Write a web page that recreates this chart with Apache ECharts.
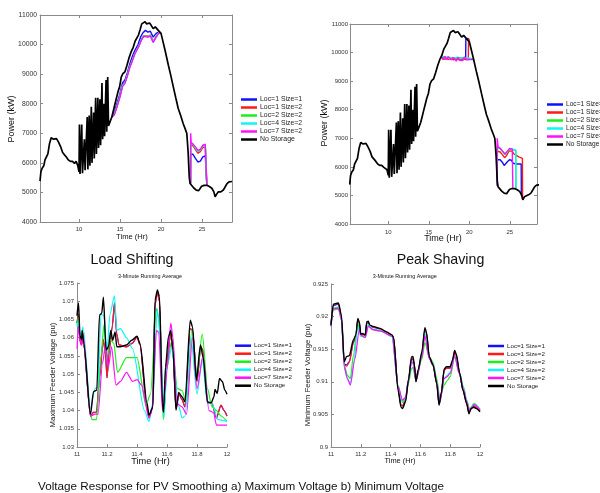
<!DOCTYPE html>
<html><head><meta charset="utf-8">
<script src="https://cdn.jsdelivr.net/npm/echarts@6/dist/echarts.min.js"></script>
<style>html,body{margin:0;padding:0;background:#fff;}#c{width:600px;height:493px;}</style>
</head><body><div id="c"></div>
<script>
// ---------- names / colours / ticks ----------
const seriesNames = ['Loc=1 Size=1','Loc=1 Size=2','Loc=2 Size=2','Loc=4 Size=2','Loc=7 Size=2','No Storage'];
const seriesColors = ['#1010ff','#ff1a1a','#1aef1a','#10f5f5','#ff10ff','#000000'];
const powerTicks = [4000,5000,6000,7000,8000,9000,10000,11000];
const hourTicks = [10,15,20,25];
const subHourTicks = [11,11.2,11.4,11.6,11.8,12];
const maxVoltTicks = [1.03,1.035,1.04,1.045,1.05,1.055,1.06,1.065,1.07,1.075];
const minVoltTicks = [0.9,0.905,0.91,0.915,0.92,0.925];
const GAP = ['-','-'];

// ---------- feeder power, no storage (hr, kW) ----------
const noStoragePower = [[5.24,5380],[5.35,5700],[5.5,5820],[5.7,5900],[5.85,6100],[6.05,6100],[6.2,6300],[6.4,6650],[6.6,6850],[6.75,6880],[6.9,6800],[7.05,6850],[7.25,6820],[7.5,6700],[7.75,6550],[8.0,6350],[8.2,6280],[8.45,6200],[8.7,6100],[8.95,6050],[9.2,6050],[9.45,5980],[9.65,6050],[9.85,5900],[10.0,5700],
[10.05,7300],[10.12,5620],[10.33,7300],[10.42,5650],[10.65,6800],[10.74,5750],[11.0,7550],[11.08,5780],[11.24,7600],[11.33,5900],[11.5,7900],[11.58,6000],[11.78,7700],[11.86,6150],[12.03,8200],[12.12,6300],[12.3,8200],[12.38,6500],[12.55,8150],[12.63,6600],[12.8,8700],[12.88,6800],[13.05,8000],[13.12,6900],[13.3,8800],[13.38,7050],[13.5,8900],[13.6,7250],[13.8,7400],
[14.0,7550],[14.15,7720],[14.35,7950],[14.55,8175],[14.75,8400],[14.95,8570],[15.15,8900],[15.35,9020],[15.6,9080],[15.85,9300],[16.1,9550],[16.35,9750],[16.6,9900],[16.85,10120],[17.05,10150],[17.25,10320],[17.45,10500],[17.65,10700],[17.85,10750],[18.05,10770],[18.25,10700],[18.4,10680],[18.6,10730],[18.8,10650],[19.05,10540],[19.3,10600],[19.5,10540],[19.7,10470],[19.85,10500],[20.0,10380],[20.2,10150],[20.5,9800],[20.9,9300],[21.2,8950],[21.5,8570],[21.8,8200],[22.1,7840],[22.4,7600],[22.7,7330],[22.95,7150],[23.15,6990],[23.3,6400],[23.45,5500],[23.55,5300],[23.75,5280],[24.0,5150],[24.3,5080],[24.6,5060],[24.95,5210],[25.25,5240],[25.6,5240],[25.9,5200],[26.2,5140],[26.45,5020],[26.6,4850],[26.8,4950],[27.0,5020],[27.3,5020],[27.6,5080],[27.85,5200],[28.05,5300],[28.3,5360],[28.66,5370]];

// ---------- load shifting (hr, kW) ----------
const lsLoc1Size1 = [[14.0,7550],[14.3,7700],[14.6,7980],[15.0,8350],[15.3,8700],[15.6,8800],[15.9,9050],[16.2,9350],[16.5,9600],[16.8,9800],[17.0,9790],[17.2,10000],[17.5,10250],[17.8,10400],[18.1,10480],[18.4,10420],[18.7,10450],[19.05,10250],[19.4,10380],[19.7,10420],[20.0,10380],GAP,[23.6,5300],[23.62,6300],[23.9,6290],[24.2,6150],[24.5,6030],[24.8,6060],[25.1,6200],[25.4,6240],[25.57,6240],[25.59,5240]];
const lsLoc1Size2 = [[14.0,7550],[14.3,7640],[14.6,7900],[15.0,8270],[15.3,8620],[15.6,8720],[15.9,8970],[16.2,9270],[16.5,9480],[16.8,9700],[17.0,9720],[17.3,9970],[17.6,10170],[17.9,10300],[18.1,10340],[18.4,10280],[18.7,10320],[19.05,10100],[19.4,10270],[19.7,10390],[20.0,10380],GAP,[23.6,5300],[23.62,6600],[23.9,6580],[24.2,6450],[24.5,6330],[24.8,6380],[25.1,6520],[25.4,6540],[25.57,6540],[25.59,5240]];
const lsLoc2Size2 = [[14.0,7550],[14.3,7640],[14.6,7890],[15.0,8260],[15.3,8610],[15.6,8710],[15.9,8960],[16.2,9260],[16.5,9470],[16.8,9690],[17.0,9710],[17.3,9960],[17.6,10160],[17.9,10290],[18.1,10330],[18.4,10270],[18.7,10310],[19.05,10090],[19.4,10260],[19.7,10390],[20.0,10380],GAP,[23.6,5300],[23.62,6640],[23.9,6620],[24.2,6500],[24.5,6390],[24.8,6430],[25.1,6570],[25.4,6590],[25.57,6590],[25.59,5240]];
const lsLoc4Size2 = [[14.0,7550],[14.3,7630],[14.6,7880],[15.0,8250],[15.3,8600],[15.6,8710],[15.9,8960],[16.2,9250],[16.5,9460],[16.8,9690],[17.0,9700],[17.3,9950],[17.6,10160],[17.9,10290],[18.1,10320],[18.4,10260],[18.7,10300],[19.05,10090],[19.4,10260],[19.7,10390],[20.0,10380],GAP,[23.6,5300],[23.62,6660],[23.9,6640],[24.2,6520],[24.5,6400],[24.8,6450],[25.1,6580],[25.4,6600],[25.57,6600],[25.59,5240]];
const lsLoc7Size2 = [[14.0,7550],[14.3,7620],[14.6,7860],[15.0,8230],[15.3,8580],[15.6,8690],[15.9,8940],[16.2,9230],[16.5,9440],[16.8,9680],[17.0,9690],[17.3,9940],[17.6,10150],[17.9,10280],[18.1,10310],[18.4,10250],[18.7,10290],[19.05,10070],[19.4,10250],[19.7,10380],[20.0,10380],GAP,[23.6,5300],[23.62,7000],[23.68,6700],[23.9,6660],[24.2,6540],[24.5,6420],[24.8,6460],[25.1,6600],[25.4,6630],[25.57,6630],[25.59,5240]];

// ---------- peak shaving (hr, kW) ----------
const psLoc1Size1 = [[16.6,9880],[16.8,9830],[17.1,9800],[17.4,9840],[17.7,9800],[18.0,9820],[18.3,9790],[18.6,9820],[18.9,9800],[19.2,9810],[19.55,9800],[19.57,10470],[19.7,10470],[19.85,10500],[20.0,10380],GAP,[23.44,5350],[23.46,6250],[23.8,6250],[24.1,6150],[24.3,6050],[24.5,6060],[24.7,6180],[24.95,6250],[25.2,6230],[25.4,6130],[25.7,6100],[26.4,6100],[26.42,5000]];
const psLoc1Size2 = [[16.6,9880],[16.75,9760],[16.9,9700],[17.1,9780],[17.4,9760],[17.7,9780],[18.0,9750],[18.3,9770],[18.6,9760],[18.9,9740],[19.2,9770],[19.5,9760],[19.88,9760],[19.9,10500],[20.0,10380],GAP,[23.44,5350],[23.46,6550],[23.8,6520],[24.1,6420],[24.35,6320],[24.6,6400],[24.9,6560],[25.3,6550],[25.5,6450],[25.8,6400],[26.1,6350],[26.55,6300],[26.57,4870]];
const psLoc2Size2 = [[16.6,9880],[16.8,9820],[17.0,9840],[17.3,9800],[17.6,9830],[17.9,9790],[18.2,9820],[18.5,9780],[18.8,9810],[19.1,9790],[19.4,9820],[19.7,9780],[20.0,9780],[20.45,9780],GAP,[23.44,5350],[23.46,6650],[23.8,6640],[24.1,6540],[24.4,6430],[24.7,6530],[24.95,6620],[25.4,6600],[25.73,6580],[25.75,5230]];
const psLoc4Size2 = [[16.6,9880],[16.8,9840],[17.0,9810],[17.3,9850],[17.6,9800],[17.9,9830],[18.2,9810],[18.5,9840],[18.8,9790],[19.1,9830],[19.4,9800],[19.7,9820],[20.0,9800],[20.45,9790],GAP,[23.44,5350],[23.46,6670],[23.8,6650],[24.1,6550],[24.4,6440],[24.7,6540],[24.95,6630],[25.4,6610],[25.73,6590],[25.75,5230]];
const psLoc7Size2 = [[16.45,9830],[16.6,9850],[16.8,9780],[17.0,9870],[17.2,9760],[17.4,9850],[17.6,9800],[17.8,9740],[18.0,9830],[18.2,9780],[18.4,9700],[18.6,9840],[18.8,9730],[19.0,9800],[19.2,9720],[19.4,9850],[19.6,9760],[19.8,9740],[20.0,9760],[20.45,9760],GAP,[23.42,5350],[23.44,7000],[23.55,6700],[23.8,6650],[24.1,6550],[24.4,6450],[24.7,6550],[24.95,6640],[25.3,6630],[25.35,6630],[25.37,5240]];

// ---------- maximum feeder voltage (hr, pu) ----------
const maxNoStorage = [[11.0,1.066],[11.01,1.0695],[11.02,1.0605],[11.03,1.0595],[11.035,1.062],[11.045,1.0585],[11.09,1.039],[11.11,1.0452],[11.132,1.0456],[11.15,1.0662],[11.165,1.0667],[11.176,1.0711],[11.194,1.0566],[11.21,1.0575],[11.225,1.062],[11.238,1.0593],[11.254,1.0616],[11.265,1.0575],[11.288,1.0575],[11.33,1.058],[11.365,1.0593],[11.4,1.0604],[11.42,1.0584],[11.467,1.042],[11.48,1.0387],[11.506,1.041],[11.52,1.0703],[11.536,1.0731],[11.55,1.0712],[11.57,1.042],[11.577,1.0396],[11.59,1.052],[11.61,1.0603],[11.625,1.062],[11.64,1.0566],[11.66,1.0401],[11.678,1.045],[11.7,1.0438],[11.72,1.0424],[11.755,1.0648],[11.77,1.063],[11.796,1.0484],[11.823,1.058],[11.84,1.0548],[11.87,1.0424],[11.895,1.0421],[11.913,1.0438],[11.92,1.0458],[11.935,1.0447],[11.95,1.0488],[11.97,1.0479],[11.985,1.0456],[12.0,1.0445]];
const maxLoc1Size1 = [[11.0,1.064],[11.01,1.0665],[11.02,1.059],[11.03,1.058],[11.035,1.061],[11.045,1.0575],[11.09,1.0385],[11.11,1.0395],[11.13,1.0395],[11.15,1.049],[11.175,1.0595],[11.19,1.0555],[11.2,1.049],[11.215,1.0565],[11.235,1.063],[11.25,1.0695],[11.265,1.061],[11.28,1.058],[11.33,1.0575],[11.37,1.0585],[11.4,1.0602],[11.42,1.058],[11.465,1.041],[11.48,1.038],[11.505,1.041],[11.52,1.069],[11.535,1.0725],[11.55,1.07],[11.57,1.041],[11.58,1.0395],[11.595,1.052],[11.625,1.061],[11.64,1.056],[11.66,1.0405],[11.68,1.0445],[11.7,1.043],[11.72,1.041],[11.755,1.0625],[11.77,1.062],[11.8,1.048],[11.825,1.0575],[11.84,1.0565],[11.87,1.042],[11.9,1.042],[11.93,1.038],[11.96,1.0415],[11.98,1.04],[12.0,1.0385]];
const maxLoc1Size2 = [[11.0,1.064],[11.01,1.0665],[11.02,1.059],[11.03,1.058],[11.035,1.061],[11.045,1.0575],[11.09,1.0385],[11.11,1.0395],[11.13,1.0395],[11.15,1.049],[11.175,1.0595],[11.19,1.0555],[11.2,1.049],[11.215,1.0565],[11.235,1.063],[11.25,1.0695],[11.265,1.061],[11.28,1.058],[11.33,1.0575],[11.37,1.0585],[11.4,1.0602],[11.42,1.058],[11.465,1.041],[11.48,1.038],[11.505,1.041],[11.52,1.069],[11.535,1.0725],[11.55,1.07],[11.57,1.041],[11.58,1.0395],[11.595,1.052],[11.625,1.061],[11.64,1.056],[11.66,1.0405],[11.68,1.0445],[11.7,1.043],[11.72,1.041],[11.755,1.0625],[11.77,1.062],[11.8,1.048],[11.825,1.0575],[11.84,1.0565],[11.87,1.042],[11.9,1.042],[11.93,1.038],[11.96,1.0415],[11.98,1.04],[12.0,1.0385]];
const maxLoc2Size2 = [[11.0,1.0635],[11.01,1.0655],[11.02,1.0605],[11.03,1.0605],[11.04,1.0615],[11.09,1.039],[11.1,1.0375],[11.13,1.0375],[11.16,1.055],[11.18,1.0635],[11.2,1.054],[11.22,1.0595],[11.245,1.0585],[11.27,1.0505],[11.33,1.0545],[11.4,1.0545],[11.46,1.0415],[11.49,1.0445],[11.53,1.068],[11.55,1.064],[11.575,1.0375],[11.6,1.052],[11.63,1.059],[11.67,1.046],[11.7,1.0455],[11.73,1.042],[11.765,1.062],[11.8,1.05],[11.835,1.061],[11.87,1.046],[11.9,1.041],[11.93,1.04],[11.96,1.0385],[12.0,1.037]];
const maxLoc4Size2 = [[11.0,1.063],[11.01,1.0645],[11.02,1.0605],[11.03,1.0615],[11.04,1.063],[11.09,1.0405],[11.12,1.046],[11.14,1.0465],[11.16,1.0665],[11.18,1.066],[11.2,1.056],[11.22,1.0665],[11.25,1.0715],[11.265,1.062],[11.29,1.0625],[11.33,1.06],[11.37,1.057],[11.45,1.04],[11.48,1.037],[11.505,1.042],[11.535,1.068],[11.555,1.06],[11.58,1.038],[11.6,1.052],[11.63,1.057],[11.68,1.041],[11.7,1.038],[11.72,1.0385],[11.76,1.06],[11.8,1.0445],[11.835,1.054],[11.87,1.042],[11.9,1.042],[11.94,1.0375],[12.0,1.037]];
const maxLoc7Size2 = [[11.0,1.057],[11.01,1.063],[11.02,1.0595],[11.03,1.058],[11.04,1.061],[11.09,1.0385],[11.12,1.039],[11.14,1.039],[11.17,1.053],[11.19,1.058],[11.21,1.052],[11.23,1.0575],[11.26,1.047],[11.29,1.048],[11.33,1.0505],[11.37,1.048],[11.4,1.0485],[11.43,1.047],[11.48,1.038],[11.5,1.04],[11.53,1.062],[11.545,1.0615],[11.57,1.04],[11.585,1.045],[11.6,1.051],[11.625,1.064],[11.64,1.06],[11.665,1.042],[11.7,1.041],[11.73,1.039],[11.77,1.06],[11.8,1.046],[11.84,1.055],[11.88,1.04],[11.91,1.0395],[11.93,1.036],[12.0,1.036]];

// ---------- minimum feeder voltage (hr, pu) ----------
const minNoStorage = [[11.0,0.9187],[11.016,0.9219],[11.033,0.922],[11.05,0.9221],[11.07,0.9202],[11.089,0.9131],[11.105,0.9139],[11.123,0.914],[11.15,0.9164],[11.167,0.9172],[11.18,0.9197],[11.19,0.9192],[11.2,0.9173],[11.21,0.9174],[11.23,0.9172],[11.24,0.9192],[11.25,0.9193],[11.26,0.9187],[11.28,0.9185],[11.33,0.9182],[11.37,0.9177],[11.41,0.9172],[11.42,0.9168],[11.45,0.9087],[11.47,0.9061],[11.48,0.9059],[11.5,0.9069],[11.52,0.9102],[11.54,0.9138],[11.55,0.9139],[11.56,0.9126],[11.57,0.91],[11.585,0.9118],[11.61,0.9146],[11.63,0.9183],[11.64,0.9177],[11.66,0.9138],[11.685,0.9126],[11.71,0.9097],[11.725,0.9064],[11.74,0.9082],[11.76,0.912],[11.775,0.9123],[11.8,0.9123],[11.815,0.9133],[11.83,0.9148],[11.84,0.9143],[11.864,0.9113],[11.886,0.9087],[11.91,0.9067],[11.926,0.9051],[11.94,0.9059],[11.958,0.9061],[11.975,0.9059],[12.0,0.9054]];
const minLoc1Size1 = [[11.0,0.9188],[11.016,0.9217],[11.033,0.9218],[11.05,0.9219],[11.07,0.9198],[11.09,0.9127],[11.105,0.9126],[11.123,0.9131],[11.15,0.916],[11.167,0.917],[11.18,0.9195],[11.19,0.919],[11.2,0.9172],[11.21,0.9173],[11.23,0.9171],[11.24,0.919],[11.25,0.9191],[11.26,0.9186],[11.28,0.9184],[11.33,0.9181],[11.37,0.9176],[11.41,0.9171],[11.42,0.9167],[11.45,0.909],[11.47,0.9064],[11.48,0.9063],[11.5,0.9072],[11.52,0.9103],[11.54,0.9134],[11.55,0.9135],[11.56,0.9124],[11.57,0.9101],[11.585,0.9117],[11.61,0.9143],[11.63,0.9179],[11.64,0.9175],[11.66,0.9137],[11.685,0.9125],[11.71,0.9098],[11.725,0.9066],[11.74,0.9083],[11.76,0.9118],[11.775,0.9121],[11.8,0.9121],[11.815,0.913],[11.83,0.9146],[11.84,0.9141],[11.864,0.9112],[11.886,0.9087],[11.91,0.9068],[11.926,0.9053],[11.94,0.906],[11.958,0.9063],[11.975,0.906],[12.0,0.9056]];
const minLoc1Size2 = [[11.0,0.9188],[11.016,0.9218],[11.033,0.9219],[11.05,0.922],[11.07,0.9198],[11.09,0.9126],[11.105,0.9124],[11.123,0.913],[11.15,0.916],[11.167,0.917],[11.18,0.9195],[11.19,0.919],[11.2,0.9172],[11.21,0.9173],[11.23,0.9171],[11.24,0.919],[11.25,0.9191],[11.26,0.9186],[11.28,0.9184],[11.33,0.9181],[11.37,0.9176],[11.41,0.9171],[11.42,0.9167],[11.45,0.909],[11.47,0.9064],[11.48,0.9063],[11.5,0.9072],[11.52,0.9103],[11.54,0.9135],[11.55,0.9136],[11.56,0.9124],[11.57,0.9101],[11.585,0.9117],[11.61,0.9143],[11.63,0.918],[11.64,0.9175],[11.66,0.9137],[11.685,0.9125],[11.71,0.9098],[11.725,0.9066],[11.74,0.9083],[11.76,0.9118],[11.775,0.9121],[11.8,0.9121],[11.815,0.913],[11.83,0.9146],[11.84,0.9141],[11.864,0.9112],[11.886,0.9087],[11.91,0.9068],[11.926,0.9052],[11.94,0.906],[11.958,0.9063],[11.975,0.906],[12.0,0.9055]];
const minLoc2Size2 = [[11.0,0.9186],[11.016,0.921],[11.05,0.9212],[11.07,0.9195],[11.09,0.9125],[11.11,0.911],[11.13,0.9105],[11.15,0.914],[11.18,0.919],[11.2,0.917],[11.23,0.9168],[11.25,0.9187],[11.28,0.918],[11.33,0.9178],[11.41,0.917],[11.45,0.9095],[11.48,0.9068],[11.5,0.9075],[11.52,0.9098],[11.54,0.912],[11.55,0.9122],[11.57,0.9102],[11.61,0.9135],[11.63,0.916],[11.66,0.9138],[11.685,0.913],[11.71,0.9105],[11.73,0.9075],[11.76,0.9095],[11.78,0.9102],[11.8,0.9108],[11.83,0.9138],[11.86,0.9115],[11.89,0.9092],[11.91,0.9072],[11.93,0.9058],[11.96,0.9067],[12.0,0.9058]];
const minLoc4Size2 = [[11.0,0.9185],[11.016,0.9213],[11.05,0.9215],[11.07,0.9195],[11.09,0.912],[11.11,0.9105],[11.13,0.9097],[11.15,0.9125],[11.18,0.9185],[11.2,0.917],[11.23,0.9169],[11.25,0.9188],[11.28,0.9181],[11.33,0.9179],[11.41,0.9169],[11.45,0.9092],[11.48,0.907],[11.5,0.9074],[11.52,0.9103],[11.54,0.9128],[11.55,0.9129],[11.57,0.9102],[11.61,0.914],[11.63,0.9175],[11.66,0.9136],[11.685,0.9127],[11.71,0.91],[11.73,0.9068],[11.76,0.9105],[11.78,0.911],[11.8,0.9115],[11.83,0.914],[11.86,0.9115],[11.89,0.909],[11.91,0.9072],[11.93,0.9056],[11.96,0.9066],[12.0,0.9057]];
const minLoc7Size2 = [[11.0,0.9185],[11.016,0.9212],[11.05,0.9213],[11.07,0.9195],[11.09,0.9122],[11.11,0.9105],[11.13,0.9095],[11.16,0.9135],[11.19,0.918],[11.2,0.9172],[11.23,0.9168],[11.25,0.9185],[11.28,0.918],[11.33,0.9178],[11.41,0.917],[11.45,0.9093],[11.48,0.9072],[11.5,0.9076],[11.52,0.9104],[11.54,0.913],[11.55,0.913],[11.57,0.9101],[11.61,0.9138],[11.63,0.917],[11.66,0.9135],[11.685,0.9126],[11.71,0.9099],[11.73,0.9068],[11.76,0.9105],[11.78,0.9108],[11.8,0.9113],[11.83,0.914],[11.86,0.9113],[11.89,0.9088],[11.91,0.907],[11.93,0.9055],[11.96,0.9065],[12.0,0.9057]];

// ---------- build chart ----------
const FONT = '"Liberation Sans", Arial, sans-serif';
const AX = '#8a8a8a';
const fmt = v => String(+(+v).toFixed(3));

const grids = [
  {left:40, top:15, width:192, height:207},
  {left:350, top:24, width:187, height:200},
  {left:77, top:283, width:150, height:164},
  {left:331, top:284, width:149, height:163}
];

function xAxis(g, min, max, ticks, fs, margin, opts) {
  opts = opts || {};
  return {type:'value', gridIndex:g, min, max, position: opts.pos || 'bottom',
    axisLine:{show:true, onZero:false, lineStyle:{color:AX, width:1}},
    axisTick:{show:true, inside:true, length:3, customValues:ticks, lineStyle:{color:AX}},
    axisLabel:{show: !opts.noLabel, customValues:ticks, fontSize:fs, margin, color:'#333', fontFamily:FONT, formatter:fmt},
    splitLine:{show:false}};
}
function yAxis(g, min, max, ticks, fs, margin, opts) {
  opts = opts || {};
  return {type:'value', gridIndex:g, min, max, position: opts.pos || 'left',
    axisLine:{show:true, onZero:false, lineStyle:{color:AX, width:1}},
    axisTick:{show:true, inside:true, length:3, customValues:ticks, lineStyle:{color:AX}},
    axisLabel:{show: !opts.noLabel, customValues:ticks, fontSize:fs, margin, color:'#333', fontFamily:FONT, formatter:fmt},
    splitLine:{show:false}};
}

const xAxes = [
  xAxis(0, 5.24, 28.66, hourTicks, 6, 4),
  xAxis(1, 5.28, 28.35, hourTicks, 6, 5),
  xAxis(2, 11, 12, subHourTicks, 6, 4),
  xAxis(3, 11, 12, subHourTicks, 6, 4),
  xAxis(0, 5.24, 28.66, hourTicks, 6, 4, {pos:'top', noLabel:true}),
  xAxis(1, 5.28, 28.35, hourTicks, 6, 4, {pos:'top', noLabel:true})
];
const yAxes = [
  yAxis(0, 4000, 11000, powerTicks, 6.8, 3),
  yAxis(1, 4000, 11000, powerTicks, 6, 2),
  yAxis(2, 1.03, 1.075, maxVoltTicks, 6, 3),
  yAxis(3, 0.9, 0.925, minVoltTicks, 6, 3),
  yAxis(0, 4000, 11000, powerTicks, 6, 3, {pos:'right', noLabel:true}),
  yAxis(1, 4000, 11000, powerTicks, 6, 3, {pos:'right', noLabel:true})
];

const panels = [
  {grid:0, width:1.4, blackWidth:1.7, sets:[lsLoc1Size1, lsLoc1Size2, lsLoc2Size2, lsLoc4Size2, lsLoc7Size2, noStoragePower]},
  {grid:1, width:1.4, blackWidth:1.7, sets:[psLoc1Size1, psLoc1Size2, psLoc2Size2, psLoc4Size2, psLoc7Size2, noStoragePower]},
  {grid:2, width:1.2, blackWidth:1.4, smooth:0.25, sets:[maxLoc1Size1, maxLoc1Size2, maxLoc2Size2, maxLoc4Size2, maxLoc7Size2, maxNoStorage]},
  {grid:3, width:1.2, blackWidth:1.4, smooth:0.25, sets:[minLoc1Size1, minLoc1Size2, minLoc2Size2, minLoc4Size2, minLoc7Size2, minNoStorage]}
];
const series = [];
panels.forEach(p => {
  p.sets.forEach((data, i) => {
    series.push({type:'line', name:seriesNames[i], xAxisIndex:p.grid, yAxisIndex:p.grid,
      data, symbol:'none', showSymbol:false, connectNulls:false, silent:true,
      smooth: p.smooth || false, smoothMonotone: p.smooth ? 'x' : undefined,
      z: 2 + i,
      lineStyle:{color:seriesColors[i], width: i === 5 ? p.blackWidth : p.width},
      itemStyle:{color:seriesColors[i]}});
  });
});

function legend(left, top, fs) {
  return {show:true, orient:'vertical', left, top, icon:'rect', itemWidth:16, itemHeight:2.5, itemGap:0,
    selectedMode:false, padding:0, data:seriesNames,
    textStyle:{fontSize:fs, lineHeight:8, color:'#222', fontFamily:FONT, padding:[0,0,0,-2]}};
}

function txt(x, y, text, fs, opts) {
  opts = opts || {};
  return {type:'text', x, y, rotation: opts.rot || 0, silent:true,
    style:{text, fontSize:fs, fontFamily:FONT, fill:'#111', align: opts.align || 'center', verticalAlign:'middle'}};
}

const graphics = [
  txt(12, 119, 'Power (kW)', 9, {rot:Math.PI/2}),
  txt(132, 236.5, 'Time (Hr)', 7.6),
  txt(325, 123, 'Power (kW)', 9, {rot:Math.PI/2}),
  txt(443, 239, 'Time (Hr)', 9),
  txt(132, 260, 'Load Shifting', 14.2),
  txt(440.5, 260.5, 'Peak Shaving', 14.2),
  txt(150, 277, '3-Minute Running Average', 5.4),
  txt(404.7, 277, '3-Minute Running Average', 5.4),
  txt(52.5, 375, 'Maximum Feeder Voltage (pu)', 7.8, {rot:Math.PI/2}),
  txt(150.5, 461, 'Time (Hr)', 9.2),
  txt(307.5, 375, 'Minimum Feeder Voltage (pu)', 7.8, {rot:Math.PI/2}),
  txt(400, 461, 'Time (Hr)', 7.4),
  txt(38, 487, 'Voltage Response for PV Smoothing a) Maximum Voltage b) Minimum Voltage', 11.7, {align:'left'})
];

const chart = echarts.init(document.getElementById('c'), null, {renderer:'canvas'});
chart.setOption({
  animation:false,
  backgroundColor:'#ffffff',
  grid: grids,
  xAxis: xAxes,
  yAxis: yAxes,
  legend: [legend(241, 95.5, 6.9), legend(547, 100.5, 6.6), legend(235, 341.7, 6.2), legend(488, 342, 6.2)],
  series,
  graphic: graphics
});
</script>
</body></html>
